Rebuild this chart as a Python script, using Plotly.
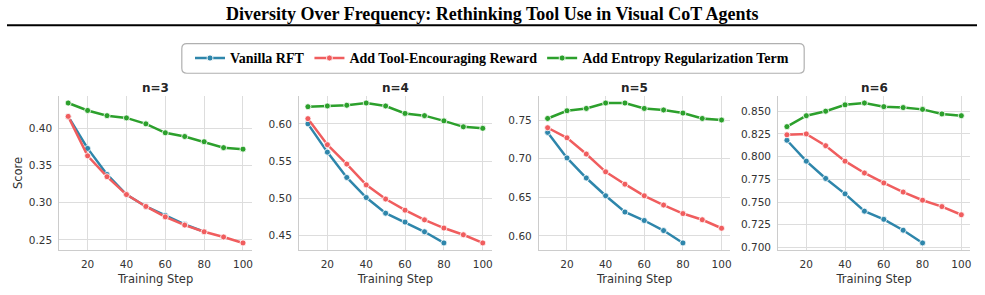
import plotly.graph_objects as go

steps_full = [10, 20, 30, 40, 50, 60, 70, 80, 90, 100]
steps_vanilla = [10, 20, 30, 40, 50, 60, 70, 80]

panel_titles = ["n=3", "n=4", "n=5", "n=6"]
series_names = ["Vanilla RFT", "Add Tool-Encouraging Reward", "Add Entropy Regularization Term"]

vanilla_n3 = [0.416, 0.373, 0.338, 0.311, 0.295, 0.283, 0.271, 0.261]
tool_n3 = [0.416, 0.363, 0.335, 0.311, 0.295, 0.281, 0.270, 0.261, 0.254, 0.246]
entropy_n3 = [0.434, 0.424, 0.417, 0.414, 0.406, 0.394, 0.389, 0.382, 0.374, 0.372]

vanilla_n4 = [0.600, 0.562, 0.528, 0.501, 0.480, 0.468, 0.455, 0.440]
tool_n4 = [0.607, 0.572, 0.546, 0.518, 0.499, 0.484, 0.471, 0.460, 0.451, 0.440]
entropy_n4 = [0.623, 0.624, 0.625, 0.628, 0.624, 0.614, 0.611, 0.604, 0.596, 0.594]

vanilla_n5 = [0.734, 0.701, 0.675, 0.652, 0.631, 0.620, 0.607, 0.591]
tool_n5 = [0.740, 0.727, 0.706, 0.683, 0.667, 0.652, 0.640, 0.629, 0.621, 0.610]
entropy_n5 = [0.752, 0.762, 0.765, 0.772, 0.772, 0.765, 0.763, 0.759, 0.752, 0.750]

vanilla_n6 = [0.818, 0.795, 0.776, 0.759, 0.740, 0.731, 0.719, 0.705]
tool_n6 = [0.824, 0.825, 0.812, 0.795, 0.782, 0.771, 0.761, 0.752, 0.745, 0.736]
entropy_n6 = [0.833, 0.845, 0.850, 0.857, 0.859, 0.855, 0.854, 0.852, 0.847, 0.845]

ytick_vals = [
    [0.25, 0.30, 0.35, 0.40],
    [0.45, 0.50, 0.55, 0.60],
    [0.60, 0.65, 0.70, 0.75],
    [0.700, 0.725, 0.750, 0.775, 0.800, 0.825, 0.850],
]
ytick_fmt = [".2f", ".2f", ".2f", ".3f"]
xtick_vals = [20, 40, 60, 80, 100]

panels = [
    (vanilla_n3, tool_n3, entropy_n3),
    (vanilla_n4, tool_n4, entropy_n4),
    (vanilla_n5, tool_n5, entropy_n5),
    (vanilla_n6, tool_n6, entropy_n6),
]

colors = ["#2E86AB", "#F05D5E", "#2CA02C"]

W, H = 985, 295
x_domains_px = [(59.5, 252), (299.5, 492), (539.5, 731), (779, 971)]
y_top_px, y_bot_px = 97, 252.5

fig = go.Figure()
tick_font = dict(family="DejaVu Sans", size=10.5, color="#333333")

for i, (van, tool, ent) in enumerate(panels):
    xa = "x" if i == 0 else f"x{i+1}"
    ya = "y" if i == 0 else f"y{i+1}"
    for j, (vals, xs) in enumerate([(van, steps_vanilla), (tool, steps_full), (ent, steps_full)]):
        fig.add_trace(go.Scatter(
            x=xs, y=vals, mode="lines+markers", name=series_names[j],
            legendgroup=series_names[j], showlegend=(i == 0),
            line=dict(color=colors[j], width=2.5),
            marker=dict(size=6, color=colors[j], line=dict(color="white", width=0.8)),
            xaxis=xa, yaxis=ya,
        ))
    allv = van + tool + ent
    lo, hi = min(allv), max(allv)
    pad = (hi - lo) * 0.05
    x0, x1 = x_domains_px[i]
    axis_common = dict(
        showgrid=True, gridcolor="#dddddd", gridwidth=1,
        showline=True, linecolor="#cccccc", linewidth=1.2,
        zeroline=False, ticks="", tickfont=tick_font,
    )
    fig.layout[("xaxis" if i == 0 else f"xaxis{i+1}")] = dict(
        domain=[x0 / W, x1 / W], anchor=ya, range=[5.5, 104.5],
        tickvals=xtick_vals, ticklabelstandoff=4,
        title=dict(text="Training Step", font=dict(family="DejaVu Sans", size=11.5, color="#333333"), standoff=6),
        **axis_common,
    )
    yd = dict(
        domain=[1 - y_bot_px / H, 1 - y_top_px / H], anchor=xa, range=[lo - pad, hi + pad],
        tickvals=ytick_vals[i], tickformat=ytick_fmt[i], ticklabelstandoff=4,
        **axis_common,
    )
    if i == 0:
        yd["title"] = dict(text="Score", font=dict(family="DejaVu Sans", size=11.5, color="#333333"), standoff=3)
    fig.layout[("yaxis" if i == 0 else f"yaxis{i+1}")] = yd
    fig.add_annotation(
        text=f"<b>{panel_titles[i]}</b>", x=(x0 + x1) / 2 / W, y=1 - 89 / H,
        xref="paper", yref="paper", showarrow=False,
        font=dict(family="DejaVu Sans", size=12, color="#262626"),
        xanchor="center", yanchor="middle",
    )

# Title
fig.add_annotation(
    text="<b>Diversity Over Frequency: Rethinking Tool Use in Visual CoT Agents</b>",
    x=0.5, y=1 - 14 / H, xref="paper", yref="paper", showarrow=False,
    font=dict(family="Liberation Serif", size=18, color="black"),
    xanchor="center", yanchor="middle",
)
# rule under title
fig.add_shape(type="line", xref="paper", yref="paper",
              x0=7 / W, x1=978 / W, y0=1 - 25.5 / H, y1=1 - 25.5 / H,
              line=dict(color="black", width=2.2))

# rounded legend frame
bx0, bx1, by0, by1, r = 182, 805, 44, 74, 5
def px(x):
    return x / W
def py(y):
    return 1 - y / H
path = (f"M {px(bx0 + r)},{py(by0)} L {px(bx1 - r)},{py(by0)} "
        f"Q {px(bx1)},{py(by0)} {px(bx1)},{py(by0 + r)} L {px(bx1)},{py(by1 - r)} "
        f"Q {px(bx1)},{py(by1)} {px(bx1 - r)},{py(by1)} L {px(bx0 + r)},{py(by1)} "
        f"Q {px(bx0)},{py(by1)} {px(bx0)},{py(by1 - r)} L {px(bx0)},{py(by0 + r)} "
        f"Q {px(bx0)},{py(by0)} {px(bx0 + r)},{py(by0)} Z")
fig.add_shape(type="path", xref="paper", yref="paper", path=path,
              line=dict(color="#b0b0b0", width=1.2), fillcolor="white", layer="below")

fig.update_layout(
    width=W, height=H, margin=dict(l=0, r=0, t=0, b=0),
    paper_bgcolor="white", plot_bgcolor="white",
    showlegend=True,
    legend=dict(
        orientation="h", x=0.5, xanchor="center", y=1 - 59 / H, yanchor="middle",
        font=dict(family="Liberation Serif", size=14, color="black", weight="bold"),
        bgcolor="rgba(0,0,0,0)", itemwidth=30, tracegroupgap=0,
    ),
)

fig.write_html("out.html")
